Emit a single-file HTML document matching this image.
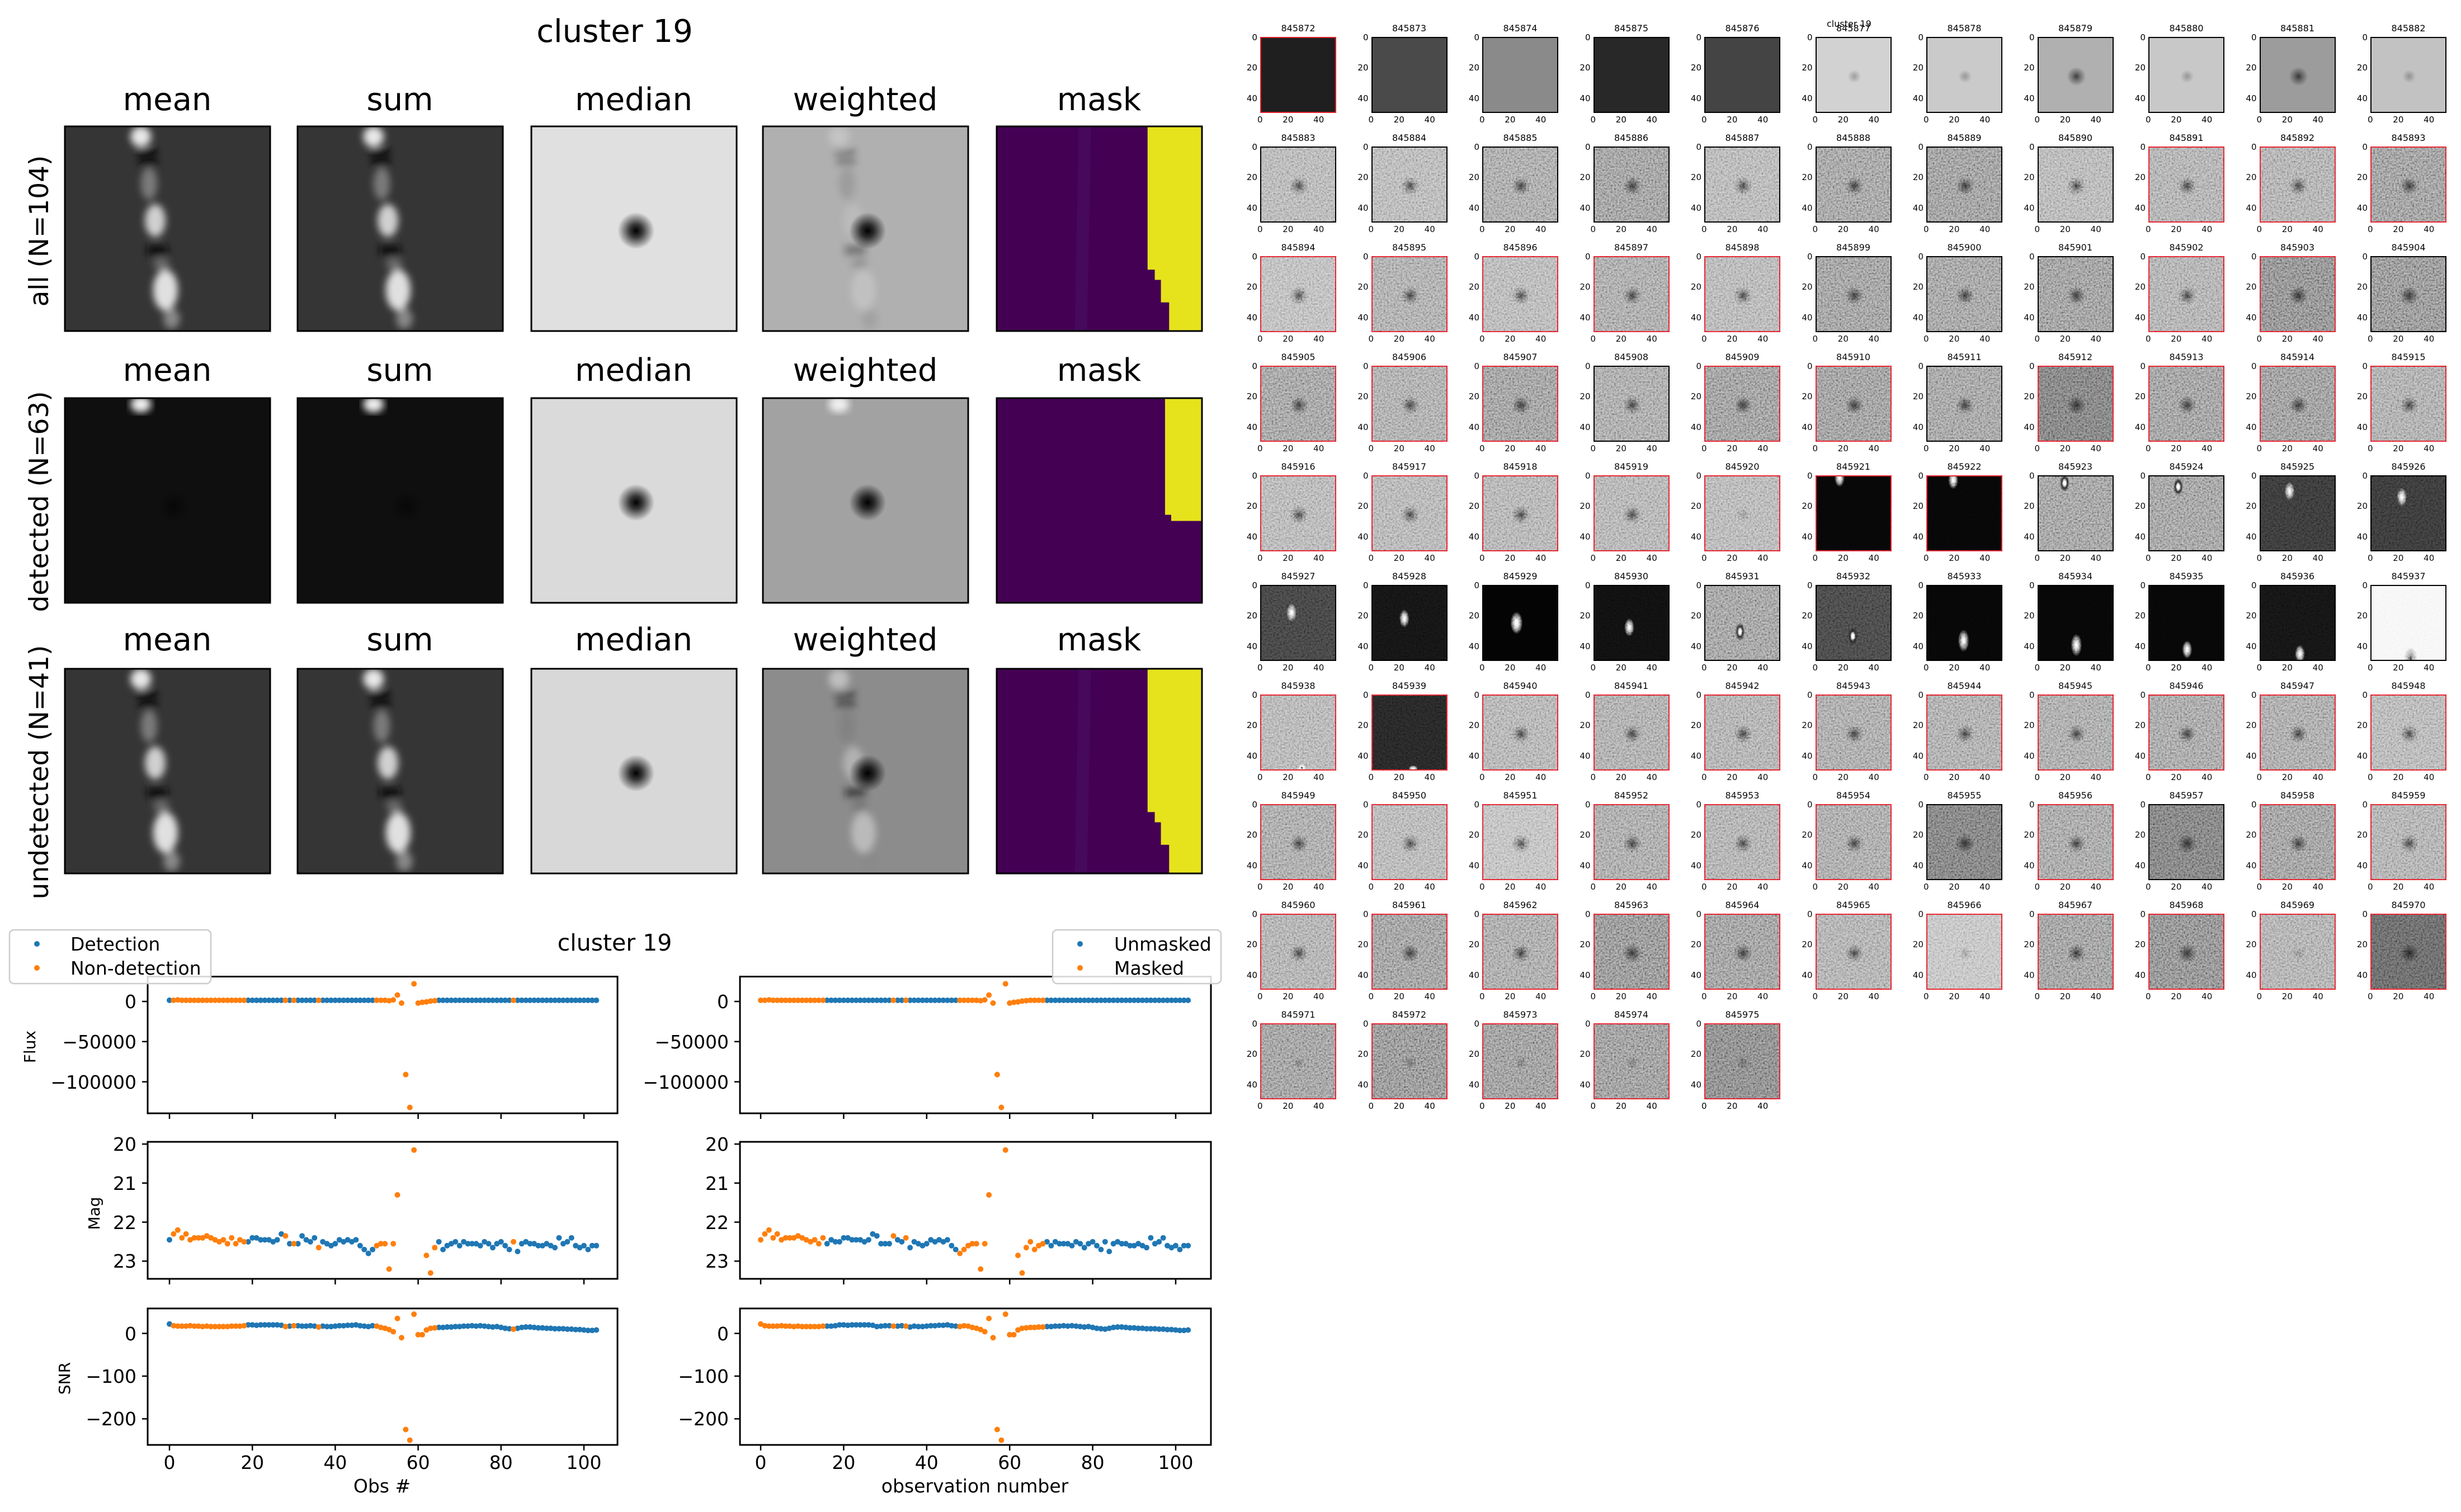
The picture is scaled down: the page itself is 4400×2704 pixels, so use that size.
<!DOCTYPE html>
<html><head><meta charset="utf-8">
<style>
html,body{margin:0;padding:0;background:#fff}
body{width:4400px;height:2704px;position:relative;overflow:hidden;font-family:"DejaVu Sans","Liberation Sans",sans-serif}
svg.main{position:absolute;left:0;top:0}
.g{position:absolute;left:2253px;top:66px;display:grid;grid-template-columns:repeat(11,136px);grid-auto-rows:136px;column-gap:62.5px;row-gap:60px}
.g>div{position:relative;box-sizing:border-box;border:2px solid #000;background-color:#a0a0a0}
.g>div.r{border-color:#e0202a}
.g span{position:absolute;left:-40px;right:-40px;top:-27px;text-align:center;font:16px "DejaVu Sans",sans-serif;color:#000}
.g>div::before{content:"0\A 20\A 40";white-space:pre;position:absolute;right:calc(100% + 7px);top:-28px;text-align:right;font:15px "DejaVu Sans",sans-serif;line-height:54.4px}
.g>div::after{content:"0 20 40";position:absolute;left:-7px;top:calc(100% + 5px);white-space:nowrap;font:15px "DejaVu Sans",sans-serif;word-spacing:31px}
.d{background-image:radial-gradient(circle at 51% 52%,rgba(0,0,0,.65) 0,rgba(0,0,0,.35) 7px,rgba(0,0,0,0) 17px)}
.f{background-image:radial-gradient(circle at 51% 52%,rgba(0,0,0,.25) 0,rgba(0,0,0,0) 12px)}
.ct{position:absolute;left:3266px;top:33px;font:16px "DejaVu Sans",sans-serif}
.nz{position:absolute;left:2253px;top:261px;mix-blend-mode:overlay;opacity:.55;pointer-events:none}
</style></head><body>
<svg class="main" width="4400" height="2704" viewBox="0 0 4400 2704" xmlns="http://www.w3.org/2000/svg" font-family="DejaVu Sans, Liberation Sans, sans-serif">
<defs>
<filter id="bl" x="-20%" y="-20%" width="140%" height="140%"><feGaussianBlur stdDeviation="1.8"/></filter>
<symbol id="strk" viewBox="0 0 100 100" preserveAspectRatio="none">
<g filter="url(#bl)">
<ellipse cx="37" cy="5" rx="5" ry="5" fill="#e8e8e8"/>
<rect x="35" y="11" width="10" height="3" fill="#000"/>
<rect x="36" y="16" width="9" height="3" fill="#000"/>
<ellipse cx="41" cy="28" rx="4" ry="8" fill="#7a7a7a"/>
<ellipse cx="44" cy="46" rx="5" ry="8" fill="#d0d0d0"/>
<rect x="40" y="58" width="10" height="5" fill="#111"/>
<ellipse cx="47" cy="67" rx="4" ry="3" fill="#6a6a6a"/>
<ellipse cx="49" cy="80" rx="6" ry="10" fill="#e0e0e0"/>
<ellipse cx="52" cy="94" rx="4" ry="5" fill="#888"/>
</g>
</symbol>
<symbol id="top" viewBox="0 0 100 100" preserveAspectRatio="none">
<g filter="url(#bl)"><ellipse cx="37" cy="3" rx="5" ry="4" fill="#f0f0f0"/></g>
</symbol>
<radialGradient id="sp"><stop offset="0" stop-color="#000" stop-opacity="1"/><stop offset=".35" stop-color="#000" stop-opacity=".75"/><stop offset="1" stop-color="#000" stop-opacity="0"/></radialGradient>
<radialGradient id="spf"><stop offset="0" stop-color="#000" stop-opacity=".5"/><stop offset="1" stop-color="#000" stop-opacity="0"/></radialGradient>
<symbol id="spot" viewBox="0 0 100 100" preserveAspectRatio="none"><circle cx="51" cy="51" r="9" fill="url(#sp)"/></symbol>
<symbol id="spotf" viewBox="0 0 100 100" preserveAspectRatio="none"><circle cx="53" cy="53" r="8" fill="url(#spf)"/></symbol>
<symbol id="mask1" viewBox="0 0 100 100" preserveAspectRatio="none">
<rect width="100" height="100" fill="#440154"/>
<polygon points="40,0 46,0 44,100 38,100" fill="#470f60" opacity=".6"/>
<polygon points="73.5,0 100,0 100,100 84,100 84,86 80,86 80,75 77,75 77,70 73.5,70" fill="#e6e31c"/>
</symbol>
<symbol id="mask2" viewBox="0 0 100 100" preserveAspectRatio="none">
<rect width="100" height="100" fill="#440154"/>
<polygon points="82,0 100,0 100,60 85,60 85,57 82,57" fill="#e6e31c"/>
</symbol>
<filter id="noise" x="0" y="0" width="100%" height="100%"><feTurbulence type="fractalNoise" baseFrequency="0.35" numOctaves="1" seed="3"/><feColorMatrix type="matrix" values="0 0 0 0 0  0 0 0 0 0  0 0 0 0 0  0 0 0 0 0"/></filter>
</defs>

<text x="1099" y="75" font-size="56" text-anchor="middle">cluster 19</text>
<g font-size="56" text-anchor="middle">
<text x="299" y="197">mean</text><text x="715" y="197">sum</text><text x="1133" y="197">median</text><text x="1547" y="197">weighted</text><text x="1965" y="197">mask</text>
<text x="299" y="681">mean</text><text x="715" y="681">sum</text><text x="1133" y="681">median</text><text x="1547" y="681">weighted</text><text x="1965" y="681">mask</text>
<text x="299" y="1163">mean</text><text x="715" y="1163">sum</text><text x="1133" y="1163">median</text><text x="1547" y="1163">weighted</text><text x="1965" y="1163">mask</text>
</g>
<g font-size="47" text-anchor="middle">
<text transform="translate(70,413) rotate(-90)" y="16">all (N=104)</text>
<text transform="translate(70,897) rotate(-90)" y="16">detected (N=63)</text>
<text transform="translate(70,1381) rotate(-90)" y="16">undetected (N=41)</text>
</g>
<rect x="116" y="226" width="367" height="366" fill="#353535"/><use href="#strk" x="116" y="226" width="367" height="366"/>
<rect x="532" y="226" width="367" height="366" fill="#353535"/><use href="#strk" x="532" y="226" width="367" height="366"/>
<rect x="950" y="226" width="367" height="366" fill="#e0e0e0"/><use href="#spot" x="950" y="226" width="367" height="366"/>
<rect x="1364" y="226" width="367" height="366" fill="#b0b0b0"/><use href="#strk" x="1364" y="226" width="367" height="366" opacity=".35"/><use href="#spot" x="1364" y="226" width="367" height="366"/>
<use href="#mask1" x="1782" y="226" width="367" height="366"/>
<rect x="116" y="712" width="367" height="366" fill="#0f0f0f"/><use href="#top" x="116" y="712" width="367" height="366"/><use href="#spotf" x="116" y="712" width="367" height="366"/>
<rect x="532" y="712" width="367" height="366" fill="#0f0f0f"/><use href="#top" x="532" y="712" width="367" height="366"/><use href="#spotf" x="532" y="712" width="367" height="366"/>
<rect x="950" y="712" width="367" height="366" fill="#dadada"/><use href="#spot" x="950" y="712" width="367" height="366"/>
<rect x="1364" y="712" width="367" height="366" fill="#a2a2a2"/><use href="#top" x="1364" y="712" width="367" height="366"/><use href="#spot" x="1364" y="712" width="367" height="366"/>
<use href="#mask2" x="1782" y="712" width="367" height="366"/>
<rect x="116" y="1196" width="367" height="366" fill="#353535"/><use href="#strk" x="116" y="1196" width="367" height="366"/>
<rect x="532" y="1196" width="367" height="366" fill="#353535"/><use href="#strk" x="532" y="1196" width="367" height="366"/>
<rect x="950" y="1196" width="367" height="366" fill="#d8d8d8"/><use href="#spot" x="950" y="1196" width="367" height="366"/>
<rect x="1364" y="1196" width="367" height="366" fill="#8c8c8c"/><use href="#strk" x="1364" y="1196" width="367" height="366" opacity=".55"/><use href="#spot" x="1364" y="1196" width="367" height="366"/>
<use href="#mask1" x="1782" y="1196" width="367" height="366"/>
<g fill="none" stroke="#000" stroke-width="3">
<rect x="116" y="226" width="367" height="366"/><rect x="532" y="226" width="367" height="366"/><rect x="950" y="226" width="367" height="366"/><rect x="1364" y="226" width="367" height="366"/><rect x="1782" y="226" width="367" height="366"/>
<rect x="116" y="712" width="367" height="366"/><rect x="532" y="712" width="367" height="366"/><rect x="950" y="712" width="367" height="366"/><rect x="1364" y="712" width="367" height="366"/><rect x="1782" y="712" width="367" height="366"/>
<rect x="116" y="1196" width="367" height="366"/><rect x="532" y="1196" width="367" height="366"/><rect x="950" y="1196" width="367" height="366"/><rect x="1364" y="1196" width="367" height="366"/><rect x="1782" y="1196" width="367" height="366"/>
</g>

<text x="1099" y="1700" font-size="41" text-anchor="middle">cluster 19</text>
<g fill="none" stroke="#000" stroke-width="3">
<rect x="264" y="1746.5" width="840" height="244.5"/><rect x="264" y="2042" width="840" height="245"/><rect x="264" y="2340" width="840" height="244"/>
<rect x="1323" y="1746.5" width="842" height="244.5"/><rect x="1323" y="2042" width="842" height="245"/><rect x="1323" y="2340" width="842" height="244"/>
</g>
<g stroke="#000" stroke-width="2.5">
<path d="M303 1991v10M451.2 1991v10M599.4 1991v10M747.6 1991v10M895.8 1991v10M1044 1991v10M303 2287v10M451.2 2287v10M599.4 2287v10M747.6 2287v10M895.8 2287v10M1044 2287v10M303 2584v10M451.2 2584v10M599.4 2584v10M747.6 2584v10M895.8 2584v10M1044 2584v10"/>
<path d="M1360 1991v10M1508.4 1991v10M1656.8 1991v10M1805.2 1991v10M1953.6 1991v10M2102 1991v10M1360 2287v10M1508.4 2287v10M1656.8 2287v10M1805.2 2287v10M1953.6 2287v10M2102 2287v10M1360 2584v10M1508.4 2584v10M1656.8 2584v10M1805.2 2584v10M1953.6 2584v10M2102 2584v10"/>
<path d="M254 1791h10M254 1862.8h10M254 1934.6h10M254 2046h10M254 2115.8h10M254 2185.6h10M254 2255.4h10M254 2384.6h10M254 2461h10M254 2537.4h10"/>
<path d="M1313 1791h10M1313 1862.8h10M1313 1934.6h10M1313 2046h10M1313 2115.8h10M1313 2185.6h10M1313 2255.4h10M1313 2384.6h10M1313 2461h10M1313 2537.4h10"/>
</g>
<g font-size="33" text-anchor="end">
<text x="244" y="1803">0</text><text x="244" y="1875">−50000</text><text x="244" y="1947">−100000</text>
<text x="244" y="2058">20</text><text x="244" y="2128">21</text><text x="244" y="2198">22</text><text x="244" y="2267">23</text>
<text x="244" y="2397">0</text><text x="244" y="2473">−100</text><text x="244" y="2549">−200</text>
<text x="1303" y="1803">0</text><text x="1303" y="1875">−50000</text><text x="1303" y="1947">−100000</text>
<text x="1303" y="2058">20</text><text x="1303" y="2128">21</text><text x="1303" y="2198">22</text><text x="1303" y="2267">23</text>
<text x="1303" y="2397">0</text><text x="1303" y="2473">−100</text><text x="1303" y="2549">−200</text>
</g>
<g font-size="33" text-anchor="middle">
<text x="303" y="2627">0</text><text x="451.2" y="2627">20</text><text x="599.4" y="2627">40</text><text x="747.6" y="2627">60</text><text x="895.8" y="2627">80</text><text x="1044" y="2627">100</text>
<text x="1360" y="2627">0</text><text x="1508.4" y="2627">20</text><text x="1656.8" y="2627">40</text><text x="1805.2" y="2627">60</text><text x="1953.6" y="2627">80</text><text x="2102" y="2627">100</text>
<text x="683" y="2669">Obs #</text><text x="1743" y="2669">observation number</text>
</g>
<g font-size="28" text-anchor="middle">
<text transform="translate(53,1872) rotate(-90)" y="10">Flux</text>
<text transform="translate(168,2170) rotate(-90)" y="10">Mag</text>
<text transform="translate(115,2465) rotate(-90)" y="10">SNR</text>
</g>

<g fill="none" stroke-linecap="round" stroke-width="10">
<svg x="264" y="1746.5" width="840" height="244.5" viewBox="-5.26 -31 113.36 170.3" preserveAspectRatio="none" overflow="visible">
<path vector-effect="non-scaling-stroke" stroke="#1f77b4" d="M0 -1.5h0M19 -1.5h0M20 -1.5h0M21 -1.5h0M22 -1.5h0M23 -1.5h0M24 -1.5h0M25 -1.5h0M26 -1.5h0M27 -1.5h0M29 -1.5h0M31 -1.5h0M32 -1.5h0M33 -1.5h0M34 -1.5h0M35 -1.5h0M37 -1.5h0M38 -1.5h0M39 -1.5h0M40 -1.5h0M41 -1.5h0M42 -1.5h0M43 -1.5h0M44 -1.5h0M45 -1.5h0M46 -1.5h0M47 -1.5h0M48 -1.5h0M49 -1.5h0M65 -1.5h0M66 -1.5h0M67 -1.5h0M68 -1.5h0M69 -1.5h0M70 -1.5h0M71 -1.5h0M72 -1.5h0M73 -1.5h0M74 -1.5h0M75 -1.5h0M76 -1.5h0M77 -1.5h0M78 -1.5h0M79 -1.5h0M80 -1.5h0M81 -1.5h0M82 -1.5h0M84 -1.5h0M85 -1.5h0M86 -1.5h0M87 -1.5h0M88 -1.5h0M89 -1.5h0M90 -1.5h0M91 -1.5h0M92 -1.5h0M93 -1.5h0M94 -1.5h0M95 -1.5h0M96 -1.5h0M97 -1.5h0M98 -1.5h0M99 -1.5h0M100 -1.5h0M101 -1.5h0M102 -1.5h0M103 -1.5h0"/>
<path vector-effect="non-scaling-stroke" stroke="#ff7f0e" d="M1 -1.5h0M2 -2h0M3 -1.5h0M4 -1.5h0M5 -1.5h0M6 -1.5h0M7 -1.5h0M8 -1.5h0M9 -1.5h0M10 -1.5h0M11 -1.5h0M12 -1.5h0M13 -1.5h0M14 -1.5h0M15 -1.5h0M16 -1.5h0M17 -1.5h0M18 -1.5h0M28 -1.5h0M30 -1.5h0M36 -1.5h0M50 -1.5h0M51 -1.5h0M52 -1.5h0M53 -1h0M54 -2h0M55 -8h0M56 2h0M57 91h0M58 132h0M59 -22h0M60 2h0M61 1h0M62 0.5h0M63 -0.5h0M64 -1h0M83 -1.5h0"/>
</svg>
<svg x="264" y="2042" width="840" height="245" viewBox="-5.26 19.94 113.36 3.51" preserveAspectRatio="none" overflow="visible">
<path vector-effect="non-scaling-stroke" stroke="#1f77b4" d="M0 22.45h0M19 22.5h0M20 22.4h0M21 22.4h0M22 22.45h0M23 22.45h0M24 22.45h0M25 22.5h0M26 22.45h0M27 22.3h0M29 22.55h0M31 22.55h0M32 22.35h0M33 22.45h0M34 22.5h0M35 22.4h0M37 22.5h0M38 22.55h0M39 22.6h0M40 22.55h0M41 22.45h0M42 22.5h0M43 22.45h0M44 22.5h0M45 22.45h0M46 22.6h0M47 22.7h0M48 22.8h0M49 22.7h0M65 22.5h0M66 22.7h0M67 22.6h0M68 22.55h0M69 22.5h0M70 22.6h0M71 22.5h0M72 22.55h0M73 22.55h0M74 22.55h0M75 22.6h0M76 22.5h0M77 22.55h0M78 22.65h0M79 22.55h0M80 22.5h0M81 22.6h0M82 22.7h0M84 22.75h0M85 22.55h0M86 22.5h0M87 22.55h0M88 22.55h0M89 22.6h0M90 22.6h0M91 22.55h0M92 22.6h0M93 22.65h0M94 22.4h0M95 22.55h0M96 22.5h0M97 22.4h0M98 22.6h0M99 22.65h0M100 22.6h0M101 22.7h0M102 22.6h0M103 22.6h0"/>
<path vector-effect="non-scaling-stroke" stroke="#ff7f0e" d="M1 22.3h0M2 22.2h0M3 22.4h0M4 22.3h0M5 22.45h0M6 22.4h0M7 22.4h0M8 22.4h0M9 22.35h0M10 22.4h0M11 22.45h0M12 22.5h0M13 22.45h0M14 22.55h0M15 22.4h0M16 22.55h0M17 22.45h0M18 22.5h0M28 22.35h0M30 22.55h0M36 22.65h0M50 22.6h0M51 22.55h0M52 22.55h0M53 23.2h0M54 22.55h0M55 21.3h0M59 20.15h0M62 22.85h0M63 23.3h0M64 22.65h0M83 22.5h0"/>
</svg>
<svg x="264" y="2340" width="840" height="244" viewBox="-5.26 -58.4 113.36 319.4" preserveAspectRatio="none" overflow="visible">
<path vector-effect="non-scaling-stroke" stroke="#1f77b4" d="M0 -22h0M19 -20h0M20 -20h0M21 -19h0M22 -20h0M23 -20h0M24 -20h0M25 -20h0M26 -20h0M27 -19h0M29 -17h0M31 -18h0M32 -17h0M33 -17h0M34 -18h0M35 -17h0M37 -17h0M38 -16h0M39 -16h0M40 -17h0M41 -18h0M42 -18h0M43 -19h0M44 -19h0M45 -20h0M46 -18h0M47 -17h0M48 -16h0M49 -18h0M65 -14h0M66 -14h0M67 -15h0M68 -15h0M69 -16h0M70 -16h0M71 -17h0M72 -17h0M73 -18h0M74 -17h0M75 -18h0M76 -17h0M77 -16h0M78 -15h0M79 -16h0M80 -14h0M81 -12h0M82 -11h0M84 -12h0M85 -14h0M86 -15h0M87 -15h0M88 -14h0M89 -13h0M90 -13h0M91 -12h0M92 -12h0M93 -11h0M94 -11h0M95 -11h0M96 -10h0M97 -10h0M98 -9h0M99 -9h0M100 -8h0M101 -7h0M102 -7h0M103 -8h0"/>
<path vector-effect="non-scaling-stroke" stroke="#ff7f0e" d="M1 -18h0M2 -17h0M3 -17h0M4 -17h0M5 -18h0M6 -17h0M7 -17h0M8 -16h0M9 -17h0M10 -16h0M11 -16h0M12 -16h0M13 -16h0M14 -16h0M15 -17h0M16 -17h0M17 -17h0M18 -18h0M28 -16h0M30 -18h0M36 -15h0M50 -17h0M51 -14h0M52 -12h0M53 -9h0M54 -4h0M55 -35h0M56 10h0M57 225h0M58 250h0M59 -45h0M60 3h0M61 3h0M62 -8h0M63 -12h0M64 -13h0M83 -10h0"/>
</svg>
<svg x="1323" y="1746.5" width="842" height="244.5" viewBox="-4.99 -31 113.49 170.3" preserveAspectRatio="none" overflow="visible">
<path vector-effect="non-scaling-stroke" stroke="#1f77b4" d="M16 -1.5h0M17 -1.5h0M18 -1.5h0M19 -1.5h0M20 -1.5h0M21 -1.5h0M22 -1.5h0M23 -1.5h0M24 -1.5h0M25 -1.5h0M26 -1.5h0M27 -1.5h0M28 -1.5h0M29 -1.5h0M30 -1.5h0M31 -1.5h0M33 -1.5h0M34 -1.5h0M36 -1.5h0M37 -1.5h0M38 -1.5h0M39 -1.5h0M40 -1.5h0M41 -1.5h0M42 -1.5h0M43 -1.5h0M44 -1.5h0M45 -1.5h0M46 -1.5h0M47 -1.5h0M69 -1.5h0M70 -1.5h0M71 -1.5h0M72 -1.5h0M73 -1.5h0M74 -1.5h0M75 -1.5h0M76 -1.5h0M77 -1.5h0M78 -1.5h0M79 -1.5h0M80 -1.5h0M81 -1.5h0M82 -1.5h0M83 -1.5h0M84 -1.5h0M85 -1.5h0M86 -1.5h0M87 -1.5h0M88 -1.5h0M89 -1.5h0M90 -1.5h0M91 -1.5h0M92 -1.5h0M93 -1.5h0M94 -1.5h0M95 -1.5h0M96 -1.5h0M97 -1.5h0M98 -1.5h0M99 -1.5h0M100 -1.5h0M101 -1.5h0M102 -1.5h0M103 -1.5h0"/>
<path vector-effect="non-scaling-stroke" stroke="#ff7f0e" d="M0 -1.5h0M1 -1.5h0M2 -2h0M3 -1.5h0M4 -1.5h0M5 -1.5h0M6 -1.5h0M7 -1.5h0M8 -1.5h0M9 -1.5h0M10 -1.5h0M11 -1.5h0M12 -1.5h0M13 -1.5h0M14 -1.5h0M15 -1.5h0M32 -1.5h0M35 -1.5h0M48 -1.5h0M49 -1.5h0M50 -1.5h0M51 -1.5h0M52 -1.5h0M53 -1h0M54 -2h0M55 -8h0M56 2h0M57 91h0M58 132h0M59 -22h0M60 2h0M61 1h0M62 0.5h0M63 -0.5h0M64 -1h0M65 -1.5h0M66 -1.5h0M67 -1.5h0M68 -1.5h0"/>
</svg>
<svg x="1323" y="2042" width="842" height="245" viewBox="-4.99 19.94 113.49 3.51" preserveAspectRatio="none" overflow="visible">
<path vector-effect="non-scaling-stroke" stroke="#1f77b4" d="M16 22.55h0M17 22.45h0M18 22.5h0M19 22.5h0M20 22.4h0M21 22.4h0M22 22.45h0M23 22.45h0M24 22.45h0M25 22.5h0M26 22.45h0M27 22.3h0M28 22.35h0M29 22.55h0M30 22.55h0M31 22.55h0M33 22.45h0M34 22.5h0M36 22.65h0M37 22.5h0M38 22.55h0M39 22.6h0M40 22.55h0M41 22.45h0M42 22.5h0M43 22.45h0M44 22.5h0M45 22.45h0M46 22.6h0M47 22.7h0M69 22.5h0M70 22.6h0M71 22.5h0M72 22.55h0M73 22.55h0M74 22.55h0M75 22.6h0M76 22.5h0M77 22.55h0M78 22.65h0M79 22.55h0M80 22.5h0M81 22.6h0M82 22.7h0M83 22.5h0M84 22.75h0M85 22.55h0M86 22.5h0M87 22.55h0M88 22.55h0M89 22.6h0M90 22.6h0M91 22.55h0M92 22.6h0M93 22.65h0M94 22.4h0M95 22.55h0M96 22.5h0M97 22.4h0M98 22.6h0M99 22.65h0M100 22.6h0M101 22.7h0M102 22.6h0M103 22.6h0"/>
<path vector-effect="non-scaling-stroke" stroke="#ff7f0e" d="M0 22.45h0M1 22.3h0M2 22.2h0M3 22.4h0M4 22.3h0M5 22.45h0M6 22.4h0M7 22.4h0M8 22.4h0M9 22.35h0M10 22.4h0M11 22.45h0M12 22.5h0M13 22.45h0M14 22.55h0M15 22.4h0M32 22.35h0M35 22.4h0M48 22.8h0M49 22.7h0M50 22.6h0M51 22.55h0M52 22.55h0M53 23.2h0M54 22.55h0M55 21.3h0M59 20.15h0M62 22.85h0M63 23.3h0M64 22.65h0M65 22.5h0M66 22.7h0M67 22.6h0M68 22.55h0"/>
</svg>
<svg x="1323" y="2340" width="842" height="244" viewBox="-4.99 -58.4 113.49 319.4" preserveAspectRatio="none" overflow="visible">
<path vector-effect="non-scaling-stroke" stroke="#1f77b4" d="M16 -17h0M17 -17h0M18 -18h0M19 -20h0M20 -20h0M21 -19h0M22 -20h0M23 -20h0M24 -20h0M25 -20h0M26 -20h0M27 -19h0M28 -16h0M29 -17h0M30 -18h0M31 -18h0M33 -17h0M34 -18h0M36 -15h0M37 -17h0M38 -16h0M39 -16h0M40 -17h0M41 -18h0M42 -18h0M43 -19h0M44 -19h0M45 -20h0M46 -18h0M47 -17h0M69 -16h0M70 -16h0M71 -17h0M72 -17h0M73 -18h0M74 -17h0M75 -18h0M76 -17h0M77 -16h0M78 -15h0M79 -16h0M80 -14h0M81 -12h0M82 -11h0M83 -10h0M84 -12h0M85 -14h0M86 -15h0M87 -15h0M88 -14h0M89 -13h0M90 -13h0M91 -12h0M92 -12h0M93 -11h0M94 -11h0M95 -11h0M96 -10h0M97 -10h0M98 -9h0M99 -9h0M100 -8h0M101 -7h0M102 -7h0M103 -8h0"/>
<path vector-effect="non-scaling-stroke" stroke="#ff7f0e" d="M0 -22h0M1 -18h0M2 -17h0M3 -17h0M4 -17h0M5 -18h0M6 -17h0M7 -17h0M8 -16h0M9 -17h0M10 -16h0M11 -16h0M12 -16h0M13 -16h0M14 -16h0M15 -17h0M32 -17h0M35 -17h0M48 -16h0M49 -18h0M50 -17h0M51 -14h0M52 -12h0M53 -9h0M54 -4h0M55 -35h0M56 10h0M57 225h0M58 250h0M59 -45h0M60 3h0M61 3h0M62 -8h0M63 -12h0M64 -13h0M65 -14h0M66 -14h0M67 -15h0M68 -15h0"/>
</svg>
</g>

<rect x="17" y="1663" width="360" height="96" rx="8" fill="#fff" fill-opacity=".85" stroke="#cccccc" stroke-width="2.5"/>
<circle cx="66" cy="1688" r="5" fill="#1f77b4"/><circle cx="66" cy="1731" r="5" fill="#ff7f0e"/>
<text x="126" y="1700" font-size="33">Detection</text><text x="126" y="1743" font-size="33">Non-detection</text>
<rect x="1882" y="1663" width="301" height="96" rx="8" fill="#fff" fill-opacity=".85" stroke="#cccccc" stroke-width="2.5"/>
<circle cx="1931" cy="1688" r="5" fill="#1f77b4"/><circle cx="1931" cy="1731" r="5" fill="#ff7f0e"/>
<text x="1992" y="1700" font-size="33">Unmasked</text><text x="1992" y="1743" font-size="33">Masked</text>
</svg>

<div class="ct">cluster 19</div>
<div class="g">
<div class="r" style="background-color:#1f1f1f"><span>845872</span></div>
<div style="background-color:#4a4a4a"><span>845873</span></div>
<div style="background-color:#8a8a8a"><span>845874</span></div>
<div style="background-color:#282828"><span>845875</span></div>
<div style="background-color:#444444"><span>845876</span></div>
<div class="f" style="background-color:#d2d2d2"><span>845877</span></div>
<div class="f" style="background-color:#cacaca"><span>845878</span></div>
<div class="d" style="background-color:#b0b0b0"><span>845879</span></div>
<div class="f" style="background-color:#c8c8c8"><span>845880</span></div>
<div class="d" style="background-color:#9c9c9c"><span>845881</span></div>
<div class="f" style="background-color:#c2c2c2"><span>845882</span></div>

<div class="d" style="background-color:#a8a8a8"><span>845883</span></div>
<div class="d" style="background-color:#aaaaaa"><span>845884</span></div>
<div class="d" style="background-color:#989898"><span>845885</span></div>
<div class="d" style="background-color:#8c8c8c"><span>845886</span></div>
<div class="d" style="background-color:#a8a8a8"><span>845887</span></div>
<div class="d" style="background-color:#909090"><span>845888</span></div>
<div class="d" style="background-color:#8a8a8a"><span>845889</span></div>
<div class="d" style="background-color:#a8a8a8"><span>845890</span></div>
<div class="d r" style="background-color:#a0a0a0"><span>845891</span></div>
<div class="d r" style="background-color:#a0a0a0"><span>845892</span></div>
<div class="d r" style="background-color:#8a8a8a"><span>845893</span></div>

<div class="d r" style="background-color:#b0b0b0"><span>845894</span></div>
<div class="d r" style="background-color:#9c9c9c"><span>845895</span></div>
<div class="d r" style="background-color:#aaaaaa"><span>845896</span></div>
<div class="d r" style="background-color:#989898"><span>845897</span></div>
<div class="d r" style="background-color:#a8a8a8"><span>845898</span></div>
<div class="d" style="background-color:#8c8c8c"><span>845899</span></div>
<div class="d" style="background-color:#909090"><span>845900</span></div>
<div class="d" style="background-color:#8a8a8a"><span>845901</span></div>
<div class="d r" style="background-color:#a0a0a0"><span>845902</span></div>
<div class="d r" style="background-color:#7c7c7c"><span>845903</span></div>
<div class="d" style="background-color:#808080"><span>845904</span></div>

<div class="d r" style="background-color:#909090"><span>845905</span></div>
<div class="d r" style="background-color:#9c9c9c"><span>845906</span></div>
<div class="d r" style="background-color:#8c8c8c"><span>845907</span></div>
<div class="d" style="background-color:#989898"><span>845908</span></div>
<div class="d r" style="background-color:#8a8a8a"><span>845909</span></div>
<div class="d r" style="background-color:#8a8a8a"><span>845910</span></div>
<div class="d" style="background-color:#909090"><span>845911</span></div>
<div class="d r" style="background-color:#707070"><span>845912</span></div>
<div class="d r" style="background-color:#8c8c8c"><span>845913</span></div>
<div class="d r" style="background-color:#888888"><span>845914</span></div>
<div class="d r" style="background-color:#9c9c9c"><span>845915</span></div>

<div class="d r" style="background-color:#a8a8a8"><span>845916</span></div>
<div class="d r" style="background-color:#a6a6a6"><span>845917</span></div>
<div class="d r" style="background-color:#a4a4a4"><span>845918</span></div>
<div class="d r" style="background-color:#a4a4a4"><span>845919</span></div>
<div class="f r" style="background-color:#a8a8a8"><span>845920</span></div>
<div class="r" style="background-color:#060606;background-image:radial-gradient(ellipse 5px 9px at 31% 2%,#fff 0,#eee 2px,rgba(255,255,255,0) 9px)"><span>845921</span></div>
<div class="r" style="background-color:#060606;background-image:radial-gradient(ellipse 5px 9px at 35% 5%,#fff 0,#eee 2px,rgba(255,255,255,0) 9px)"><span>845922</span></div>
<div style="background-color:#8e8e8e;background-image:radial-gradient(ellipse 5px 9px at 35% 9%,#fff 0,#fff 2px,#222 5px,rgba(0,0,0,0) 9px)"><span>845923</span></div>
<div style="background-color:#8e8e8e;background-image:radial-gradient(ellipse 5px 9px at 39% 14%,#fff 0,#fff 2px,#222 5px,rgba(0,0,0,0) 9px)"><span>845924</span></div>
<div style="background-color:#333333;background-image:radial-gradient(ellipse 5px 9px at 39% 20%,#fff 0,#eee 2px,rgba(255,255,255,0) 9px)"><span>845925</span></div>
<div style="background-color:#333333;background-image:radial-gradient(ellipse 5px 9px at 41% 28%,#fff 0,#eee 2px,rgba(255,255,255,0) 9px)"><span>845926</span></div>

<div style="background-color:#3c3c3c;background-image:radial-gradient(ellipse 5px 9px at 41% 36%,#fff 0,#eee 2px,rgba(255,255,255,0) 9px)"><span>845927</span></div>
<div style="background-color:#121212;background-image:radial-gradient(ellipse 5px 9px at 43% 44%,#fff 0,#eee 2px,rgba(255,255,255,0) 9px)"><span>845928</span></div>
<div style="background-color:#030303;background-image:radial-gradient(ellipse 6px 11px at 45% 50%,#fff 0,#eee 3px,rgba(255,255,255,0) 11px)"><span>845929</span></div>
<div style="background-color:#0e0e0e;background-image:radial-gradient(ellipse 5px 9px at 47% 56%,#fff 0,#eee 2px,rgba(255,255,255,0) 9px)"><span>845930</span></div>
<div style="background-color:#8e8e8e;background-image:radial-gradient(ellipse 5px 9px at 47% 62%,#fff 0,#fff 2px,#222 5px,rgba(0,0,0,0) 9px)"><span>845931</span></div>
<div style="background-color:#404040;background-image:radial-gradient(ellipse 5px 9px at 49% 68%,#fff 0,#fff 2px,#222 5px,rgba(0,0,0,0) 9px)"><span>845932</span></div>
<div style="background-color:#060606;background-image:radial-gradient(ellipse 5px 10px at 49% 74%,#fff 0,#eee 2px,rgba(255,255,255,0) 10px)"><span>845933</span></div>
<div style="background-color:#060606;background-image:radial-gradient(ellipse 5px 10px at 51% 80%,#fff 0,#eee 2px,rgba(255,255,255,0) 10px)"><span>845934</span></div>
<div style="background-color:#060606;background-image:radial-gradient(ellipse 5px 9px at 51% 86%,#fff 0,#eee 2px,rgba(255,255,255,0) 9px)"><span>845935</span></div>
<div style="background-color:#121212;background-image:radial-gradient(ellipse 5px 9px at 53% 92%,#fff 0,#eee 2px,rgba(255,255,255,0) 9px)"><span>845936</span></div>
<div style="background-color:#f5f5f5;background-image:radial-gradient(ellipse 6px 10px at 53% 98%,#222 0,#888 3px,rgba(255,255,255,0) 12px)"><span>845937</span></div>

<div class="r" style="background-color:#a6a6a6;background-image:radial-gradient(ellipse 6px 6px at 55% 98%,#000 0,#fff 3px,rgba(255,255,255,0) 7px)"><span>845938</span></div>
<div class="r" style="background-color:#222222;background-image:radial-gradient(ellipse 8px 6px at 55% 99%,#fff 0,#ddd 3px,rgba(255,255,255,0) 8px)"><span>845939</span></div>
<div class="d r" style="background-color:#a4a4a4"><span>845940</span></div>
<div class="d r" style="background-color:#9c9c9c"><span>845941</span></div>
<div class="d r" style="background-color:#a0a0a0"><span>845942</span></div>
<div class="d r" style="background-color:#989898"><span>845943</span></div>
<div class="d r" style="background-color:#9c9c9c"><span>845944</span></div>
<div class="d r" style="background-color:#989898"><span>845945</span></div>
<div class="d r" style="background-color:#949494"><span>845946</span></div>
<div class="d r" style="background-color:#989898"><span>845947</span></div>
<div class="d r" style="background-color:#a8a8a8"><span>845948</span></div>

<div class="d r" style="background-color:#989898"><span>845949</span></div>
<div class="d r" style="background-color:#a8a8a8"><span>845950</span></div>
<div class="d r" style="background-color:#b4b4b4"><span>845951</span></div>
<div class="d r" style="background-color:#989898"><span>845952</span></div>
<div class="d r" style="background-color:#a0a0a0"><span>845953</span></div>
<div class="d r" style="background-color:#989898"><span>845954</span></div>
<div class="d" style="background-color:#707070"><span>845955</span></div>
<div class="d r" style="background-color:#949494"><span>845956</span></div>
<div class="d" style="background-color:#707070"><span>845957</span></div>
<div class="d r" style="background-color:#8c8c8c"><span>845958</span></div>
<div class="d r" style="background-color:#a0a0a0"><span>845959</span></div>

<div class="d r" style="background-color:#a0a0a0"><span>845960</span></div>
<div class="d r" style="background-color:#8c8c8c"><span>845961</span></div>
<div class="d r" style="background-color:#989898"><span>845962</span></div>
<div class="d r" style="background-color:#808080"><span>845963</span></div>
<div class="d r" style="background-color:#8c8c8c"><span>845964</span></div>
<div class="d r" style="background-color:#a0a0a0"><span>845965</span></div>
<div class="f r" style="background-color:#b8b8b8"><span>845966</span></div>
<div class="d r" style="background-color:#8c8c8c"><span>845967</span></div>
<div class="d r" style="background-color:#7c7c7c"><span>845968</span></div>
<div class="f r" style="background-color:#a0a0a0"><span>845969</span></div>
<div class="d r" style="background-color:#5c5c5c"><span>845970</span></div>

<div class="f r" style="background-color:#8c8c8c"><span>845971</span></div>
<div class="f r" style="background-color:#808080"><span>845972</span></div>
<div class="f r" style="background-color:#888888"><span>845973</span></div>
<div class="f r" style="background-color:#888888"><span>845974</span></div>
<div class="f r" style="background-color:#787878"><span>845975</span></div>
</div>
<svg class="nz" width="2124" height="1705" viewBox="0 0 2124 1705" xmlns="http://www.w3.org/2000/svg">
<filter id="nzf" x="0" y="0" width="100%" height="100%"><feTurbulence type="fractalNoise" baseFrequency="0.33" numOctaves="1" seed="5"/><feColorMatrix type="matrix" values="1.6 0 0 0 -0.3  1.6 0 0 0 -0.3  1.6 0 0 0 -0.3  0 0 0 0 1"/></filter>
<rect width="2124" height="1705" filter="url(#nzf)"/>
</svg>
</body></html>
